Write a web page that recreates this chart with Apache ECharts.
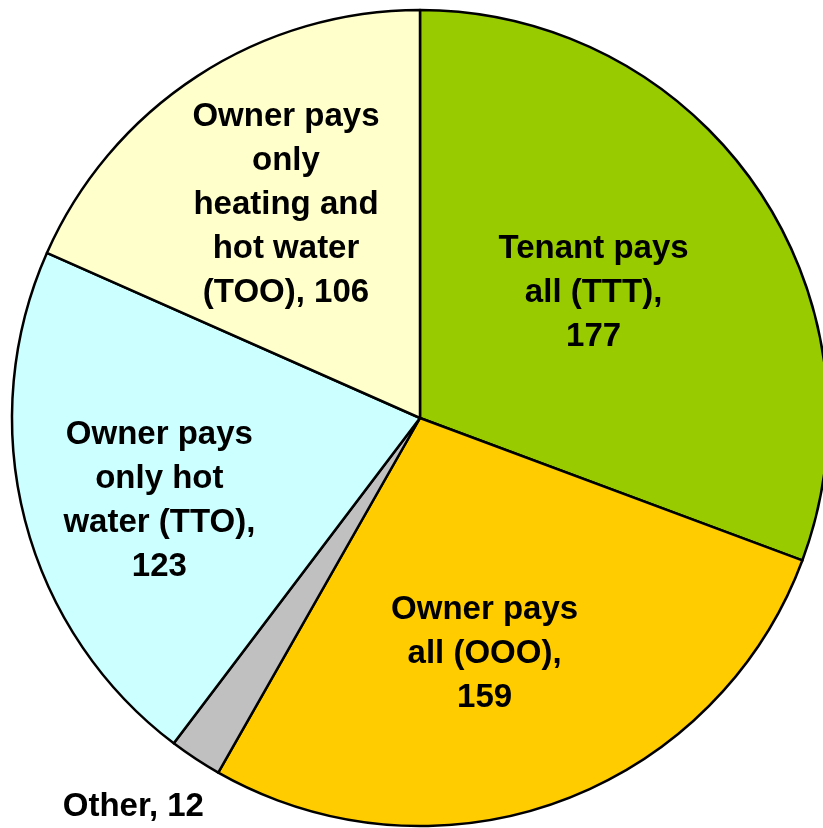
<!DOCTYPE html>
<html>
<head>
<meta charset="utf-8">
<script src="https://cdn.jsdelivr.net/npm/echarts@6/dist/echarts.min.js"></script>
<style>
  html, body { margin: 0; padding: 0; background: #fff; }
  #main { width: 823px; height: 828px; }
</style>
</head>
<body>
<div id="main"></div>
<script>
// slices, clockwise from 12 o'clock
var categories = [
  "Tenant pays\nall (TTT),",
  "Owner pays\nall (OOO),",
  "Other,",
  "Owner pays\nonly hot\nwater (TTO),",
  "Owner pays\nonly\nheating and\nhot water\n(TOO),"
];
var values = [177, 159, 12, 123, 106];
var colors = ["#99CC00", "#FFCC00", "#C0C0C0", "#CCFFFF", "#FFFFCC"];

var cx = 420, cy = 418, R = 408;
// label placement: share of radius plus a small nudge
var labelDist = [0.53, 0.6, 1.13, 0.67, 0.62];
var labelNudge = [[-4, -2], [-19, 6], [-33, 4], [4, 14], [4, -1]];

var total = values.reduce(function (a, b) { return a + b; }, 0);
function midAngle(i) {
  var before = 0;
  for (var k = 0; k < i; k++) before += values[k];
  var mid = (before + values[i] / 2) / total * 360;
  return (90 - mid) * Math.PI / 180;
}

var myChart = echarts.init(document.getElementById("main"));
var option = {
  animation: false,
  series: [
    {
      type: "pie",
      center: [cx, cy],
      radius: R,
      startAngle: 90,
      clockwise: true,
      silent: true,
      data: categories.map(function (c, i) {
        var item = {
          name: c,
          value: values[i],
          itemStyle: { color: colors[i] }
        };
        if (i === 2) {
          item.label = { position: "outside" };
          item.labelLine = { show: false };
        }
        return item;
      }),
      itemStyle: { borderColor: "#000", borderWidth: 2.5 },
      label: {
        show: true,
        position: "inside",
        formatter: function (p) {
          return p.dataIndex === 2 ? p.name + " " + p.value : p.name + (p.dataIndex === 4 ? " " : "\n") + p.value;
        },
        fontFamily: "Liberation Sans, Arial, sans-serif",
        fontWeight: "bold",
        fontSize: 33,
        lineHeight: 44,
        color: "#000",
        align: "center"
      },
      labelLine: { show: false },
      labelLayout: function (p) {
        var i = p.dataIndex;
        var a = midAngle(i);
        var x = cx + labelDist[i] * R * Math.cos(a) + labelNudge[i][0];
        var y = cy - labelDist[i] * R * Math.sin(a) + labelNudge[i][1];
        return { x: x, y: y, align: "center", verticalAlign: "middle" };
      }
    }
  ]
};
myChart.setOption(option);
</script>
</body>
</html>
